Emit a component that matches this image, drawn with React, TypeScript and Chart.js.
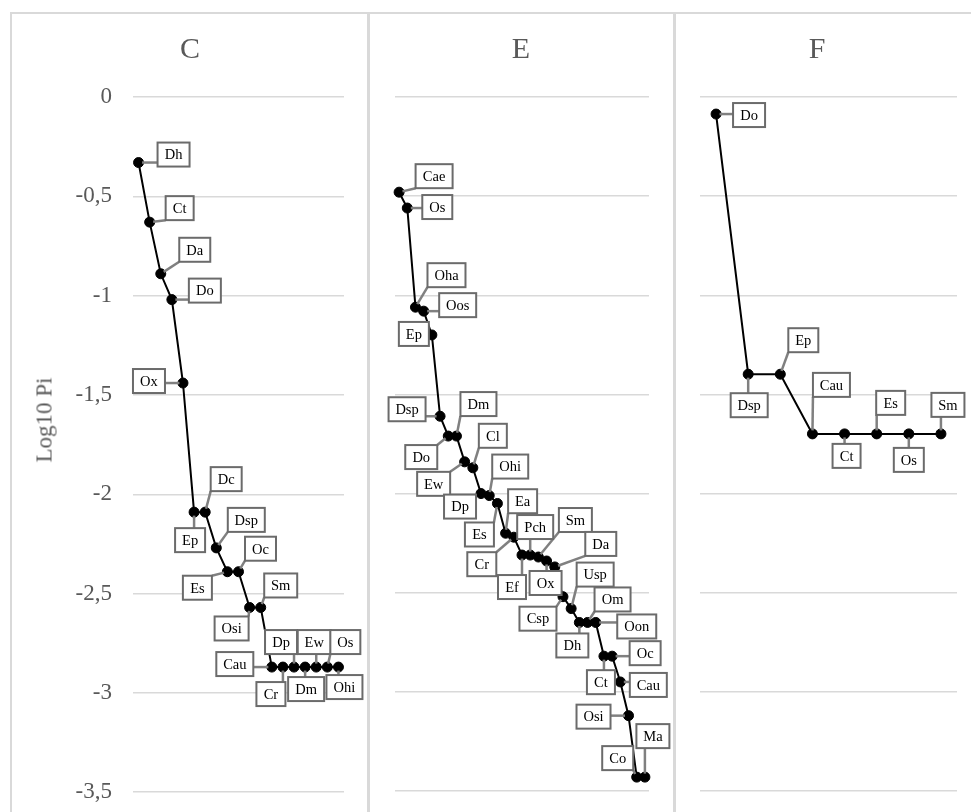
import React, { useEffect, useRef } from 'react';
import { Chart, registerables } from 'chart.js';

Chart.register(...registerables);

const FONT = "'Liberation Serif', 'Times New Roman', Times, serif";

// ---------- DATA ----------
const yTickValues = [0, -0.5, -1, -1.5, -2, -2.5, -3, -3.5];

const cTitle = 'C';
const cLabels = ['Dh', 'Ct', 'Da', 'Do', 'Ox', 'Ep', 'Dc', 'Dsp', 'Es', 'Oc', 'Osi', 'Sm', 'Cau', 'Cr', 'Dp', 'Dm', 'Ew', 'Os', 'Ohi'];
const cValues = [-0.33, -0.63, -0.89, -1.02, -1.44, -2.09, -2.09, -2.27, -2.39, -2.39, -2.57, -2.57, -2.87, -2.87, -2.87, -2.87, -2.87, -2.87, -2.87];

const eTitle = 'E';
const eLabels = ['Cae', 'Os', 'Oha', 'Oos', 'Ep', 'Dsp', 'Do', 'Dm', 'Ew', 'Cl', 'Dp', 'Ohi', 'Es', 'Ea', 'Cr', 'Ef', 'Pch', 'Sm', 'Ox', 'Da', 'Csp', 'Usp', 'Dh', 'Om', 'Oon', 'Ct', 'Oc', 'Cau', 'Osi', 'Co', 'Ma'];
const eValues = [-0.48, -0.56, -1.06, -1.08, -1.20, -1.61, -1.71, -1.71, -1.84, -1.87, -2.00, -2.01, -2.05, -2.20, -2.22, -2.31, -2.31, -2.32, -2.34, -2.37, -2.52, -2.58, -2.65, -2.65, -2.65, -2.82, -2.82, -2.95, -3.12, -3.43, -3.43];

const fTitle = 'F';
const fLabels = ['Do', 'Dsp', 'Ep', 'Cau', 'Ct', 'Es', 'Os', 'Sm'];
const fValues = [-0.086, -1.398, -1.398, -1.699, -1.699, -1.699, -1.699, -1.699];

const yAxisTitle = 'Log10 Pi';

// ---------- LABEL PLACEMENT (box centre offset from its point, px) ----------
type Offset = [number, number];
const cOffsets: Offset[] = [
  [35, -8], [30, -14], [34, -24], [33, -9], [-34, -2], [-4, 28], [21, -33], [30, -28],
  [-30, 16], [22, -23], [-18, 21], [20, -22], [-37, -3], [-12, 27], [-13, -25], [1, 22],
  [-2, -25], [18, -25], [6, 20],
];
const eOffsets: Offset[] = [
  [35, -16], [30, -1], [31, -32], [34, -6], [-18, -1], [-33, -7], [-27, 21], [22, -32],
  [-31, 22], [20, -32], [-21, 13], [21, -29], [-18, 31], [17, -32], [-32, 27], [-10, 32],
  [5, -28], [37, -37], [-1, 22], [46, -23], [-25, 22], [24, -34], [-7, 23], [25, -23],
  [41, 4], [-3, 26], [33, -3], [28, 3], [-35, 1], [-19, -19], [8, -41],
];
const fOffsets: Offset[] = [
  [33, 1], [1, 31], [23, -34], [19, -49], [2, 22], [14, -31], [0, 26], [7, -29],
];

// ---------- callout label plugin ----------
const calloutPlugin = {
  id: 'calloutLabels',
  afterDatasetsDraw(chart: any) {
    const opts = chart.options.plugins.calloutLabels;
    if (!opts || !opts.offsets) return;
    const offsets: Offset[] = opts.offsets;
    const names: string[] = chart.data.labels;
    const meta = chart.getDatasetMeta(0);
    const ctx: CanvasRenderingContext2D = chart.ctx;
    ctx.save();
    ctx.font = `14.5px ${FONT}`;
    const boxes = meta.data.map((pt: any, i: number) => {
      const [dx, dy] = offsets[i] || [20, -20];
      const text = String(names[i]);
      const w = Math.round(ctx.measureText(text).width + 14);
      const h = 24;
      const cx = pt.x + dx;
      const cy = pt.y + dy;
      return { px: pt.x, py: pt.y, x: cx - w / 2, y: cy - h / 2, w, h, cx, cy, text };
    });
    ctx.strokeStyle = '#808080';
    ctx.lineWidth = 2.5;
    ctx.lineCap = 'butt';
    boxes.forEach((b: any) => {
      const ex = Math.min(Math.max(b.px, b.x), b.x + b.w);
      const ey = Math.min(Math.max(b.py, b.y), b.y + b.h);
      const len = Math.hypot(ex - b.px, ey - b.py);
      if (len < 6) return;
      const sx = b.px + ((ex - b.px) / len) * 3.5;
      const sy = b.py + ((ey - b.py) / len) * 3.5;
      ctx.beginPath();
      ctx.moveTo(sx, sy);
      ctx.lineTo(ex, ey);
      ctx.stroke();
    });
    boxes.forEach((b: any) => {
      ctx.fillStyle = '#ffffff';
      ctx.fillRect(b.x, b.y, b.w, b.h);
      ctx.strokeStyle = '#6b6b6b';
      ctx.lineWidth = 2;
      ctx.strokeRect(b.x, b.y, b.w, b.h);
      ctx.fillStyle = '#000000';
      ctx.textAlign = 'center';
      ctx.textBaseline = 'middle';
      ctx.fillText(b.text, b.cx, b.cy + 1);
    });
    ctx.restore();
  },
};

type PanelCfg = {
  title: string;
  labels: string[];
  values: number[];
  offsets: Offset[];
  showTicks: boolean;
  left: number;
  width: number;
  height: number;
  padL: number;
  padR: number;
  padB: number;
  axisW: number;
};

function Panel({ cfg }: { cfg: PanelCfg }) {
  const ref = useRef<HTMLCanvasElement>(null);
  useEffect(() => {
    if (!ref.current) return;
    const chart = new Chart(ref.current, {
      type: 'line',
      data: {
        labels: cfg.labels,
        datasets: [
          {
            data: cfg.values,
            borderColor: '#000000',
            backgroundColor: '#000000',
            borderWidth: 2,
            pointRadius: 5,
            pointBackgroundColor: '#000000',
            pointBorderColor: '#000000',
            pointBorderWidth: 1,
            tension: 0,
          },
        ],
      },
      options: {
        responsive: false,
        maintainAspectRatio: false,
        animation: false,
        layout: { padding: { left: cfg.padL, right: cfg.padR, top: 0, bottom: cfg.padB } },
        plugins: {
          legend: { display: false },
          tooltip: { enabled: false },
          title: {
            display: true,
            text: cfg.title,
            color: '#595959',
            font: { family: FONT, size: 30, weight: 'normal' },
            padding: { top: 18, bottom: 29 },
          },
          calloutLabels: { offsets: cfg.offsets },
        } as any,
        scales: {
          x: { type: 'category', display: false, offset: true },
          y: {
            min: yTickValues[yTickValues.length - 1],
            max: yTickValues[0],
            afterBuildTicks: (scale: any) => {
              scale.ticks = yTickValues.map((v) => ({ value: v }));
            },
            ticks: {
              display: cfg.showTicks,
              color: '#595959',
              font: { family: FONT, size: 23 },
              padding: 21,
              callback: (v: any) => String(Math.round(Number(v) * 10) / 10).replace('.', ','),
            },
            grid: { color: '#d9d9d9', lineWidth: 1.5, drawTicks: false },
            border: { display: false },
            afterFit: (scale: any) => {
              scale.width = cfg.axisW;
            },
          },
        },
      } as any,
      plugins: [calloutPlugin],
    });
    return () => chart.destroy();
  }, []);
  return (
    <canvas
      ref={ref}
      width={cfg.width}
      height={cfg.height}
      style={{ position: 'absolute', left: cfg.left, top: 14, width: cfg.width, height: cfg.height }}
    />
  );
}

const panels: PanelCfg[] = [
  { title: cTitle, labels: cLabels, values: cValues, offsets: cOffsets, showTicks: true, left: 12, width: 354, height: 813, padL: 24, padR: 22, padB: 0, axisW: 97 },
  { title: eTitle, labels: eLabels, values: eValues, offsets: eOffsets, showTicks: false, left: 371, width: 301, height: 800, padL: 22, padR: 23, padB: 23, axisW: 2 },
  { title: fTitle, labels: fLabels, values: fValues, offsets: fOffsets, showTicks: false, left: 677, width: 294, height: 800, padL: 0, padR: 14, padB: 23, axisW: 23 },
];

const frame = '#d9d9d9';

export default function App() {
  return (
    <div
      style={{
        position: 'fixed',
        left: 0,
        top: 0,
        width: 971,
        height: 812,
        overflow: 'hidden',
        background: '#ffffff',
        fontFamily: FONT,
      }}
    >
      <div style={{ position: 'absolute', left: 10, top: 12, width: 961, height: 2, background: frame }} />
      <div style={{ position: 'absolute', left: 10, top: 12, width: 2, height: 800, background: frame }} />
      <div style={{ position: 'absolute', left: 367, top: 12, width: 3, height: 800, background: frame }} />
      <div style={{ position: 'absolute', left: 673, top: 12, width: 3, height: 800, background: frame }} />
      {panels.map((p) => (
        <Panel key={p.title} cfg={p} />
      ))}
      <div
        style={{
          position: 'absolute',
          left: 44,
          top: 420,
          transform: 'translate(-50%, -50%) rotate(-90deg)',
          fontSize: 23,
          fontWeight: 'normal',
          color: '#595959',
          whiteSpace: 'nowrap',
          lineHeight: 1,
        }}
      >
        {yAxisTitle}
      </div>
    </div>
  );
}
